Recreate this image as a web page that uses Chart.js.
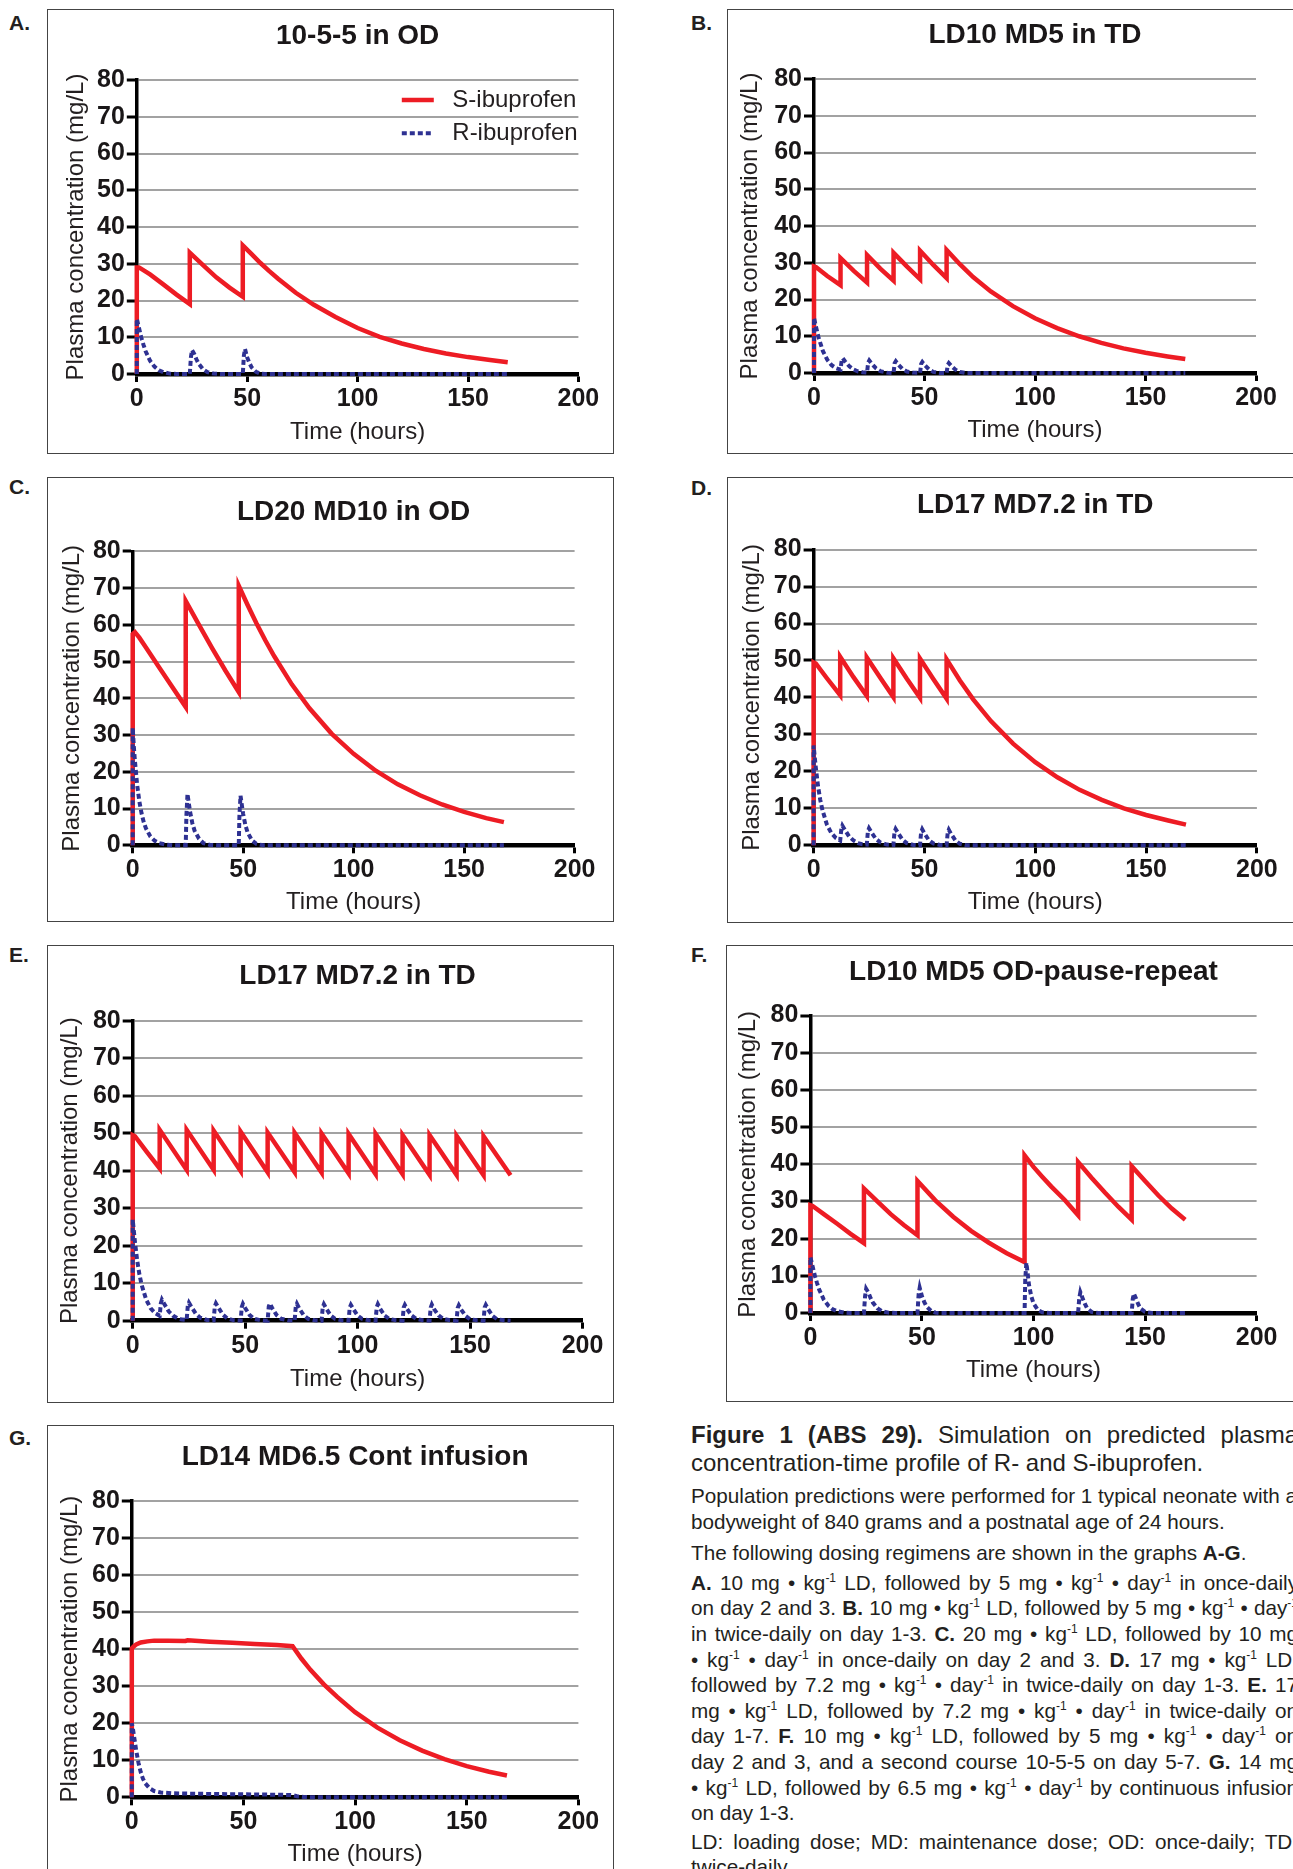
<!DOCTYPE html>
<html>
<head>
<meta charset="utf-8">
<script src="https://cdn.jsdelivr.net/npm/chart.js@4.4.1/dist/chart.umd.min.js"></script>
<style>
    html, body { margin: 0; padding: 0; width: 1293px; height: 1869px; overflow: hidden; background: #fff; }
    body { position: relative; font-family: 'Liberation Sans', Arial, sans-serif; color: #231f20; }
    canvas { position: absolute; }
    .box { position: absolute; border: 1.5px solid #444; box-sizing: border-box; }
    .letter { position: absolute; font-size: 21px; font-weight: bold; line-height: 21px; }
    .caption { position: absolute; left: 691px; width: 607px; }
    .j { text-align: justify; text-align-last: justify; }
    sup { font-size: 12px; line-height: 0; vertical-align: 8px; }
</style>
</head>
<body>

<div class="letter" style="left:9px;top:12px">A.</div>
<div class="letter" style="left:691px;top:12px">B.</div>
<div class="letter" style="left:9px;top:475.5px">C.</div>
<div class="letter" style="left:691px;top:477px">D.</div>
<div class="letter" style="left:9px;top:944px">E.</div>
<div class="letter" style="left:691px;top:944px">F.</div>
<div class="letter" style="left:9px;top:1427px">G.</div>

<div class="caption" style="top:1421px;font-size:24px;line-height:28px">
    <div class="j"><b>Figure 1 (ABS 29).</b> Simulation on predicted plasma</div>
    <div>concentration-time profile of R- and S-ibuprofen.</div>
</div>
<div class="caption" style="top:1482.7px;font-size:20.7px;line-height:26px;white-space:nowrap">
    Population predictions were performed for 1 typical neonate with a<br>
    bodyweight of 840 grams and a postnatal age of 24 hours.
</div>
<div class="caption" style="top:1539.7px;font-size:20.7px;line-height:26px;white-space:nowrap">
    The following dosing regimens are shown in the graphs <b>A-G</b>.
</div>
<div class="caption" style="top:1569.9px;font-size:20.7px;line-height:25.6px">
    <div class="j"><b>A.</b> 10 mg • kg<sup>-1</sup> LD, followed by 5 mg • kg<sup>-1</sup> • day<sup>-1</sup> in once-daily</div>
    <div class="j">on day 2 and 3. <b>B.</b> 10 mg • kg<sup>-1</sup> LD, followed by 5 mg • kg<sup>-1</sup> • day<sup>-1</sup></div>
    <div class="j">in twice-daily on day 1-3. <b>C.</b> 20 mg • kg<sup>-1</sup> LD, followed by 10 mg</div>
    <div class="j">• kg<sup>-1</sup> • day<sup>-1</sup> in once-daily on day 2 and 3. <b>D.</b> 17 mg • kg<sup>-1</sup> LD,</div>
    <div class="j">followed by 7.2 mg • kg<sup>-1</sup> • day<sup>-1</sup> in twice-daily on day 1-3. <b>E.</b> 17</div>
    <div class="j">mg • kg<sup>-1</sup> LD, followed by 7.2 mg • kg<sup>-1</sup> • day<sup>-1</sup> in twice-daily on</div>
    <div class="j">day 1-7. <b>F.</b> 10 mg • kg<sup>-1</sup> LD, followed by 5 mg • kg<sup>-1</sup> • day<sup>-1</sup> on</div>
    <div class="j">day 2 and 3, and a second course 10-5-5 on day 5-7. <b>G.</b> 14 mg</div>
    <div class="j">• kg<sup>-1</sup> LD, followed by 6.5 mg • kg<sup>-1</sup> • day<sup>-1</sup> by continuous infusion</div>
    <div>on day 1-3.</div>
</div>
<div class="caption" style="top:1828.9px;font-size:20.7px;line-height:25.6px">
    <div class="j">LD: loading dose; MD: maintenance dose; OD: once-daily; TD:</div>
    <div>twice-daily.</div>
</div>

<script>
Chart.defaults.font.family = "'Liberation Sans', Arial, sans-serif";
Chart.defaults.color = '#231f20';
const tickFamily = "'Liberation Sans Narrow', 'Arial Narrow', 'Liberation Sans', sans-serif";

// axis ranges (hours / mg/L)
const xMax = 200;
const xStep = 50;
const yMax = 80;
const yStep = 10;

//A. 10-5-5 in OD
const aS = [[0,0],[0,29],[1,29],[6,27.1],[12,24.4],[18,21.6],[24,19],[24,33],[30,29.6],[36,26.3],[42,23.5],[48,21],[48,35],[52,32.6],[56,30.2],[60,28],[64,25.9],[72,22.1],[80,18.9],[90,15.5],[100,12.5],[110,10.1],[120,8.3],[130,6.8],[140,5.6],[150,4.6],[160,3.8],[168,3.2]];
const aR = [[0,0],[0,15],[1,12.5],[2,10],[3,8],[4,6.2],[6,3.6],[8,2],[10,1],[12,0.5],[15,0.1],[18,0],[24,0],[24.5,4.5],[25,6.5],[26,5.5],[27,4],[28,2.8],[30,1.3],[32,0.5],[35,0.1],[38,0],[48,0],[48.5,5],[49,6.8],[50,4.5],[51,3],[52,1.8],[54,0.6],[56,0.1],[58,0],[168,0]];

//B. LD10 MD5 in TD
const bS = [[0,0],[0,29],[1,28.8],[6,26.4],[12,23.9],[12,31.3],[18,27.8],[24,24.6],[24,32.1],[30,28.4],[36,25.1],[36,32.7],[42,29],[48,25.5],[48,33.3],[54,29.4],[60,25.8],[60,33.5],[66,29.6],[72,26.1],[80,22.2],[90,18.2],[100,14.9],[110,12.2],[120,10],[130,8.2],[140,6.7],[150,5.5],[160,4.5],[168,3.8]];
const bR = [[0,0],[0,15],[1,12.3],[2,9.8],[4,6],[6,3.6],[8,2.1],[10,1.3],[12,0.9],[12.5,3.3],[13,4],[14,3.2],[16,1.8],[18,0.9],[20,0.4],[22,0.2],[24,0.1],[24.5,2.8],[25,3.4],[26,2.6],[28,1.3],[30,0.5],[33,0.1],[36,0],[36.5,2.7],[37,3.2],[38,2.4],[40,1.1],[42,0.4],[45,0.1],[48,0],[48.5,2.5],[49,3],[50,2.2],[52,1],[54,0.3],[57,0],[60,0],[60.5,2.2],[61,2.7],[62,2],[64,0.9],[66,0.3],[69,0],[168,0]];

//C. LD20 MD10 in OD
const cS = [[0,0],[0,57.5],[1,58],[3,56.5],[6,53.8],[12,48.4],[18,43],[24,37.6],[24,66.5],[30,60],[36,53.6],[42,47.5],[48,41.7],[48,70.6],[52,65.4],[56,60.4],[60,55.8],[64,51.5],[72,43.8],[80,37.3],[90,30.4],[100,24.9],[110,20.3],[120,16.6],[130,13.6],[140,11.1],[150,9.1],[160,7.4],[168,6.3]];
const cR = [[0,0],[0,32],[0.5,27],[1,23],[2,16.5],[3,12],[4,8.7],[5,6.3],[6,4.6],[8,2.4],[10,1.2],[12,0.6],[15,0.2],[18,0],[24,0],[24.3,8],[24.8,14],[25.5,11],[26,9],[27,6],[28,4],[30,1.8],[32,0.6],[35,0.1],[38,0],[48,0],[48.3,8],[48.8,13.5],[49.5,10.5],[50,8.5],[51,5.5],[52,3.5],[54,1.3],[56,0.4],[59,0],[168,0]];

//D. LD17 MD7.2 in TD
const dS = [[0,0],[0,49.5],[1,49.2],[6,45.2],[12,40.6],[12,51],[18,45.5],[24,40.4],[24,50.8],[30,45.4],[36,40.1],[36,50.6],[42,45.1],[48,39.9],[48,50.5],[54,45],[60,39.7],[60,50.3],[66,44.6],[72,39.5],[80,33.6],[90,27.5],[100,22.5],[110,18.4],[120,15],[130,12.3],[140,10],[150,8.2],[160,6.7],[168,5.6]];
const dR = [[0,0],[0,27],[0.5,24],[1,21],[2,16],[3,12.3],[4,9.5],[6,5.6],[8,3.3],[10,2],[12,1.3],[12.5,4.3],[13,5.3],[14,4.3],[16,2.4],[18,1.3],[20,0.6],[22,0.3],[24,0.2],[24.5,3.8],[25,4.6],[26,3.6],[28,1.8],[30,0.8],[33,0.2],[36,0.1],[36.5,3.6],[37,4.4],[38,3.4],[40,1.6],[42,0.6],[45,0.1],[48,0],[48.5,3.5],[49,4.3],[50,3.2],[52,1.4],[54,0.5],[57,0.1],[60,0],[60.5,3.4],[61,4.2],[62,3.1],[64,1.3],[66,0.4],[69,0],[168,0]];

//E. LD17 MD7.2 in TD, day 1-7
const eS = [[0,0],[0,49.5],[1,49.2],[6,45.2],[12,40.6],[12,50.9],[24,40.2],[24,50.9],[36,40.2],[36,50.7],[48,39.9],[48,50.4],[60,39.6],[60,50.2],[72,39.6],[72,50.1],[84,39.5],[84,49.9],[96,39.3],[96,49.8],[108,39.1],[108,49.8],[120,39.1],[120,49.5],[132,38.9],[132,49.5],[144,38.9],[144,49.3],[156,38.8],[156,49.2],[168,38.8]];
const eR = [[0,0],[0,27],[0.5,24],[1,21],[2,16],[3,12.3],[4,9.5],[6,5.6],[8,3.3],[10,2],[12,1.3],
    [12.5,4.6],[13,5.6],[14,4.5],[16,2.5],[18,1.3],[20,0.6],[22,0.3],[24,0.2],
    [24.5,4],[25,4.8],[26,3.8],[28,1.9],[30,0.8],[33,0.2],[36,0.1],
    [36.5,3.8],[37,4.6],[38,3.6],[40,1.7],[42,0.6],[45,0.1],[48,0],
    [48.5,3.7],[49,4.5],[50,3.4],[52,1.5],[54,0.5],[57,0.1],[60,0],
    [60.5,3.8],[61,4.6],[62,3.4],[64,1.5],[66,0.5],[69,0.1],[72,0],
    [72.5,3.7],[73,4.5],[74,3.3],[76,1.5],[78,0.5],[81,0.1],[84,0],
    [84.5,3.6],[85,4.4],[86,3.3],[88,1.4],[90,0.5],[93,0.1],[96,0],
    [96.5,3.5],[97,4.2],[98,3.2],[100,1.4],[102,0.5],[105,0.1],[108,0],
    [108.5,3.6],[109,4.4],[110,3.2],[112,1.4],[114,0.5],[117,0.1],[120,0],
    [120.5,3.5],[121,4.2],[122,3.1],[124,1.4],[126,0.5],[129,0.1],[132,0],
    [132.5,3.5],[133,4.3],[134,3.1],[136,1.4],[138,0.5],[141,0.1],[144,0],
    [144.5,3.4],[145,4.1],[146,3],[148,1.3],[150,0.4],[153,0.1],[156,0],
    [156.5,3.5],[157,4.2],[158,3.1],[160,1.3],[162,0.4],[165,0.1],[168,0]];

//F. LD10 MD5 OD-pause-repeat
const fS = [[0,0],[0,29],[1,28.8],[6,26.6],[12,24],[18,21.3],[24,18.8],[24,33.5],[30,30],[36,26.6],[42,23.6],[48,20.9],[48,35.5],[56,30.3],[64,25.9],[72,22.1],[80,18.9],[88,16.1],[96,13.7],[96,42.4],[100,39.3],[104,36.6],[108,34],[114,30.4],[120,26.3],[120,40.6],[126,36.4],[132,32.4],[138,28.6],[144,25.1],[144,39.5],[150,35.5],[156,31.6],[162,28.1],[168,25.1]];
const fR = [[0,0],[0,15],[1,12.5],[2,10],[3,8],[4,6.2],[6,3.6],[8,2],[10,1],[12,0.5],[15,0.1],[18,0],[24,0],[24.5,4.5],[25,6.5],[26,5.5],[27,4],[28,2.8],[30,1.3],[32,0.5],[35,0.1],[38,0],[48,0],[48.5,5],[49,6.8],[50,4.5],[51,3],[52,1.8],[54,0.6],[56,0.1],[58,0],[96,0],[96.3,9],[96.8,13.5],[97.5,10],[98,7.5],[99,4.5],[100,2.6],[102,0.8],[104,0.2],[107,0],[120,0],[120.5,4],[121,5.6],[122,4],[123,2.5],[124,1.3],[126,0.3],[129,0],[144,0],[144.5,3.8],[145,5.2],[146,3.8],[147,2.3],[148,1.2],[150,0.3],[153,0],[168,0]];

//G. LD14 MD6.5 Cont infusion
const gS = [[0,0],[0,40.2],[1,40.8],[2,41.3],[4,41.8],[7,42.1],[10,42.3],[16,42.3],[24,42.2],[25,42.4],[35,42],[45,41.7],[55,41.4],[65,41.1],[72,40.8],[76,37.4],[80,34.4],[86,30.5],[92,27.1],[100,23],[110,18.8],[120,15.4],[130,12.6],[140,10.3],[150,8.4],[160,6.9],[168,5.9]];
const gR = [[0,0],[0,20],[0.5,18.5],[1,16.5],[2,12.5],[3,9.3],[4,6.8],[5,5],[6,3.8],[8,2.4],[10,1.7],[13,1.3],[18,1.1],[25,1],[35,0.9],[50,0.8],[65,0.7],[72,0.6],[74,0.3],[77,0.1],[82,0],[168,0]];

// legend drawn inside the plot area (panel A only)
const insideLegend = {
    id: 'insideLegend',
    afterDatasetsDraw(chart) {
        const {ctx, chartArea} = chart;
        ctx.save();
        ctx.font = "24px 'Liberation Sans', Arial, sans-serif";
        ctx.textBaseline = 'middle';
        ctx.fillStyle = '#231f20';
        chart.data.datasets.forEach((ds, i) => {
            const x = chartArea.left + 265;
            const y = chartArea.top + 20 + i * 33.3;
            ctx.beginPath();
            ctx.strokeStyle = ds.borderColor;
            ctx.lineWidth = ds.borderWidth;
            ctx.setLineDash(ds.borderDash || []);
            ctx.moveTo(x, y);
            ctx.lineTo(x + 32, y);
            ctx.stroke();
            ctx.fillText(ds.label, x + 50.5, y);
        });
        ctx.restore();
    }
};

// box / plot = [left, top, right, bottom] on the page
function createChart(title, sData, rData, box, plot, titleY, yTitleX, xTitleY, withLegend) {
    const frame = document.createElement('div');
    frame.className = 'box';
    frame.style.left = box[0] + 'px';
    frame.style.top = box[1] + 'px';
    frame.style.width = (box[2] - box[0]) + 'px';
    frame.style.height = (box[3] - box[1]) + 'px';
    document.body.appendChild(frame);

    const canvas = document.createElement('canvas');
    canvas.width = Math.round(box[2] - box[0]);
    canvas.height = Math.round(box[3] - box[1]);
    canvas.style.left = box[0] + 'px';
    canvas.style.top = box[1] + 'px';
    document.body.appendChild(canvas);

    const titleTop = titleY - box[1] - 16.8;

    new Chart(canvas, {
        type: 'line',
        data: {
            datasets: [{
                label: 'S-ibuprofen',
                data: sData,
                borderColor: '#ed1c24',
                borderWidth: 4.5,
                pointRadius: 0,
                order: 2,
                clip: false
            }, {
                label: 'R-ibuprofen',
                data: rData,
                borderColor: '#2e3192',
                borderWidth: 4,
                borderDash: [5, 3],
                pointRadius: 0,
                order: 1,
                clip: false
            }]
        },
        plugins: withLegend ? [insideLegend] : [],
        options: {
            responsive: false,
            animation: false,
            events: [],
            layout: {
                padding: { left: 0, top: 0, right: canvas.width - (plot[2] - box[0]), bottom: 0 }
            },
            plugins: {
                legend: { display: false },
                tooltip: { enabled: false },
                title: {
                    display: true,
                    text: title,
                    fullSize: false,
                    color: '#1a1718',
                    font: { size: 28, weight: 'bold' },
                    padding: { top: titleTop, bottom: plot[1] - box[1] - titleTop - 33.6 }
                }
            },
            scales: {
                x: {
                    type: 'linear',
                    min: 0,
                    max: xMax,
                    ticks: {
                        stepSize: xStep,
                        maxRotation: 0,
                        padding: 2,
                        color: '#1a1718',
                        font: { family: tickFamily, size: 25, weight: 'bold' }
                    },
                    grid: {
                        drawOnChartArea: false,
                        tickLength: 8,
                        tickWidth: 3,
                        tickColor: '#000'
                    },
                    border: { color: '#000', width: 4.5 },
                    title: {
                        display: true,
                        text: 'Time (hours)',
                        color: '#231f20',
                        font: { size: 24 },
                        padding: { top: 0, bottom: canvas.height - (xTitleY - box[1]) - 14.4 }
                    },
                    afterFit: (scale) => { scale.height = canvas.height - (plot[3] - box[1]); }
                },
                y: {
                    min: 0,
                    max: yMax,
                    ticks: {
                        stepSize: yStep,
                        padding: 2,
                        color: '#1a1718',
                        font: { family: tickFamily, size: 25, weight: 'bold' }
                    },
                    grid: {
                        color: (c) => (c.tick && c.tick.value === 0) ? 'rgba(0,0,0,0)' : '#a2a2a2',
                        lineWidth: 2,
                        tickLength: 10,
                        tickWidth: 3,
                        tickColor: '#000'
                    },
                    border: { color: '#000', width: 3.5 },
                    title: {
                        display: true,
                        text: 'Plasma concentration (mg/L)',
                        color: '#231f20',
                        font: { size: 24 },
                        padding: { top: yTitleX - box[0] - 14.4, bottom: 0 }
                    },
                    afterFit: (scale) => { scale.width = plot[0] - box[0]; }
                }
            }
        }
    });
}

createChart('10-5-5 in OD', aS, aR, [47, 9, 614, 454], [136.8, 80, 578.4, 374], 36.7, 76.7, 432, true);
createChart('LD10 MD5 in TD', bS, bR, [727, 9, 1303, 454], [814, 79, 1256, 373], 35, 750.5, 430, false);
createChart('LD20 MD10 in OD', cS, cR, [47, 476.7, 614, 922], [132.7, 551, 574.6, 845], 511.7, 72.6, 901.7, false);
createChart('LD17 MD7.2 in TD', dS, dR, [727, 476.7, 1303, 922.7], [813.6, 549.3, 1256.9, 845], 505, 752.5, 901.7, false);
createChart('LD17 MD7.2 in TD', eS, eR, [47, 945, 614, 1402.7], [132.7, 1020.7, 582.5, 1320.7], 976.7, 70.5, 1379.3, false);
createChart('LD10 MD5 OD-pause-repeat', fS, fR, [726.3, 944.7, 1303, 1401.7], [810.7, 1015.3, 1256.9, 1312.7], 971.7, 748.4, 1370, false);
createChart('LD14 MD6.5 Cont infusion', gS, gR, [47, 1425, 614, 1885], [131.8, 1501, 578.4, 1797.3], 1457, 70.5, 1854, false);
</script>
</body>
</html>
